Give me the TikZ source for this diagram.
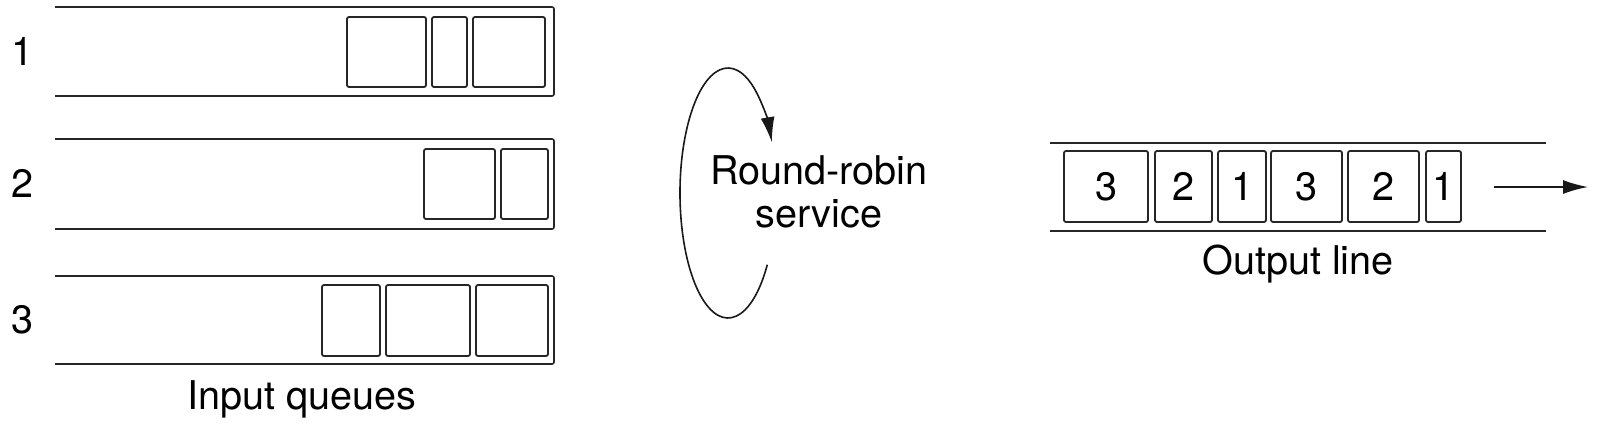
\documentclass[tikz,border=0pt]{standalone}
\usepackage{fontspec}
\setmainfont{TeX Gyre Heros}
\usetikzlibrary{arrows.meta}
\begin{document}
\begin{tikzpicture}[x=0.5pt,y=-0.5pt,
  lbl/.style={font=\fontsize{19.8}{22}\selectfont, inner sep=0pt, anchor=base},
  qline/.style={draw=black!85, line width=0.8pt, rounded corners=1pt},
  pkt/.style={draw=black!85, line width=0.9pt, rounded corners=1pt, inner sep=0pt,
     font=\fontsize{19.8}{22}\selectfont},
  conn/.style={draw=black!90, line width=0.8pt, -{Latex[length=12.5pt,width=7pt]}}]
\useasboundingbox (0,0) rectangle (1600,428);
% input queues
\draw[qline] (55,7) -- (554,7) -- (554,96) -- (55,96);
\draw[qline] (55,139) -- (554,139) -- (554,229) -- (55,229);
\draw[qline] (55,276) -- (554,276) -- (554,364) -- (55,364);
\node[lbl] (l1) at (23,65) {1};
\node[lbl] (l2) at (23,197.5) {2};
\node[lbl] (l3) at (23,333.5) {3};
% queue 1 packets
\node[pkt, minimum width=39.5pt, minimum height=35pt] (a1) at (386.5,52) {};
\node[pkt, minimum width=17.5pt, minimum height=35pt] (a2) at (449.5,52) {};
\node[pkt, minimum width=36pt, minimum height=35pt] (a3) at (509,52) {};
% queue 2 packets
\node[pkt, minimum width=35.5pt, minimum height=35pt] (b1) at (459.5,184) {};
\node[pkt, minimum width=23.5pt, minimum height=35pt] (b2) at (524.5,184) {};
% queue 3 packets
\node[pkt, minimum width=29pt, minimum height=35.5pt] (c1) at (351,320.5) {};
\node[pkt, minimum width=42pt, minimum height=35.5pt] (c2) at (428,320.5) {};
\node[pkt, minimum width=36pt, minimum height=35.5pt] (c3) at (512,320.5) {};
\node[lbl] (inq) at (302,409) {Input queues};
% round robin
\draw[conn] (767.3,264.7) arc[start angle=35, end angle=336, x radius=48, y radius=125];
\node[lbl] (rr1) at (819,184) {Round-robin};
\node[lbl] (rr2) at (819,227) {service};
% output line
\draw[qline] (1050,143) -- (1546,143);
\draw[qline] (1050,231) -- (1546,231);
\node[pkt, minimum width=42pt, minimum height=35.5pt] (o1) at (1106,186.5) {3};
\node[pkt, minimum width=28.5pt, minimum height=35.5pt] (o2) at (1183.5,186.5) {2};
\node[pkt, minimum width=24pt, minimum height=35.5pt] (o3) at (1242,186.5) {1};
\node[pkt, minimum width=35.5pt, minimum height=35.5pt] (o4) at (1306.5,186.5) {3};
\node[pkt, minimum width=35.5pt, minimum height=35.5pt] (o5) at (1383.5,186.5) {2};
\node[pkt, minimum width=17.5pt, minimum height=35.5pt] (o6) at (1443.5,186.5) {1};
\coordinate (ostart) at (1494,187);
\coordinate (oend) at (1588,187);
\draw[conn] (ostart) -- (oend);
\node[lbl] (outl) at (1298,274) {Output line};
\end{tikzpicture}
\end{document}
